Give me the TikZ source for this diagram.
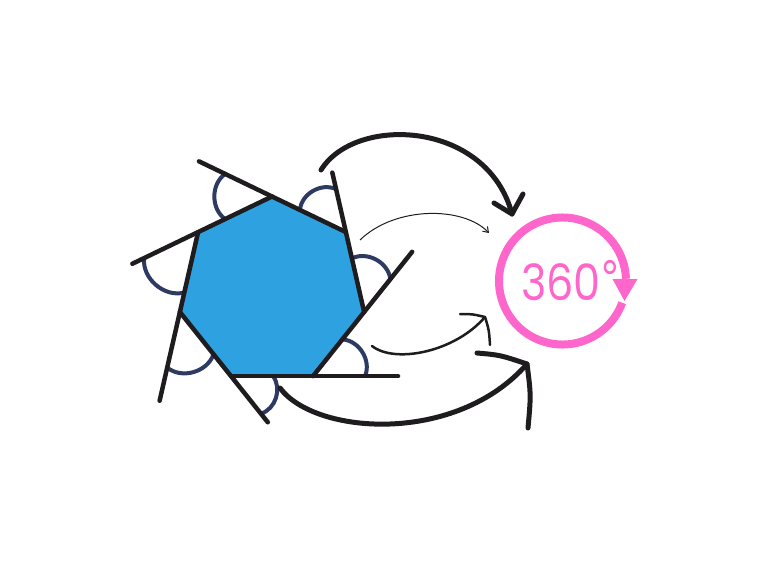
\documentclass[tikz,border=0pt]{standalone}
\usepackage{fontspec}
\newfontfamily\ringfont{Poppins}
\newfontfamily\degfont{DejaVu Sans}
\usetikzlibrary{calc,arrows.meta}
\definecolor{hexblue}{RGB}{46,162,224}
\definecolor{navy}{RGB}{45,58,98}
\definecolor{ink}{RGB}{30,28,30}
\definecolor{ringpink}{RGB}{255,102,204}
\begin{document}
\begin{tikzpicture}[x=1pt,y=-1pt,
  side/.style={ink,line width=4.5pt,line cap=round},
  angarc/.style={navy,line width=4pt},
  bigarrow/.style={ink,line width=5pt,line cap=round,line join=round},
  midarrow/.style={ink,line width=2.5pt,line cap=round,line join=round},
  thinarrow/.style={ink,line width=1pt,-{Straight Barb[length=5pt,width=7pt]}},
  ring/.style={ringpink,line width=8pt}]
\useasboundingbox (0,0) rectangle (768,576);
\coordinate (C) at (272,291);
\foreach \k in {0,...,6} \coordinate (V\k) at ($(C)+({-90+\k*360/7}:94.5)$);
% heptagon
\fill[hexblue] (V0) -- (V1) -- (V2) -- (V3) -- (V4) -- (V5) -- (V6) -- cycle;
% exterior angle arcs
\draw[angarc] ($(V0)!-52pt!(V1)$) to[bend right=55] ($(V0)!52pt!(V6)$);
\draw[angarc] ($(V1)!-44pt!(V2)$) to[bend right=55] ($(V1)!51pt!(V0)$);
\draw[angarc] ($(V2)!-42pt!(V3)$) to[bend right=55] ($(V2)!55pt!(V1)$);
\draw[angarc] ($(V3)!-52pt!(V4)$) to[bend right=55] ($(V3)!47pt!(V2)$);
\draw[angarc] ($(V4)!-48pt!(V5)$) to[bend right=55] ($(V4)!42pt!(V3)$);
\draw[angarc] ($(V5)!-57pt!(V6)$) to[bend right=55] ($(V5)!54pt!(V4)$);
\draw[angarc] ($(V6)!-60pt!(V0)$) to[bend right=55] ($(V6)!62pt!(V5)$);
% sides, each extended past one vertex
\draw[side] (V1) -- ($(V0)!-81pt!(V1)$);
\draw[side] (V2) -- ($(V1)!-61pt!(V2)$);
\draw[side] (V3) -- ($(V2)!-77pt!(V3)$);
\draw[side] (V4) -- ($(V3)!-85pt!(V4)$);
\draw[side] (V5) -- ($(V4)!-59pt!(V5)$);
\draw[side] (V6) -- ($(V5)!-91pt!(V6)$);
\draw[side] (V0) -- ($(V6)!-73pt!(V0)$);
% arrows
\coordinate (a1s) at (321,170);
\coordinate (a1e) at (512,214);
\draw[bigarrow] (a1s) .. controls (355,115) and (487,120) .. (a1e);
\draw[bigarrow] (494,203) -- (a1e) -- (523,194);
\coordinate (a2s) at (360,240);
\coordinate (a2e) at (489,233);
\draw[thinarrow] (a2s) .. controls (395,206) and (463,206) .. (a2e);
\coordinate (a3s) at (372,346);
\coordinate (a3e) at (485,317);
\draw[midarrow] (a3s) .. controls (395,364) and (455,352) .. (a3e);
\draw[midarrow] (460,314) .. controls (472,314) .. (a3e) .. controls (489,330) .. (490,345);
\coordinate (a4s) at (280,388);
\coordinate (a4e) at (527,364);
\draw[bigarrow] (a4s) .. controls (315,435) and (456,445) .. (a4e);
\draw[bigarrow] (477,353) .. controls (500,355) .. (a4e) .. controls (531,395) .. (528,428);
% 360 ring
\coordinate (R) at (562.5,281);
\draw[ring] ($(R)+(-20:63.5pt)$) arc[start angle=-20, end angle=-358, radius=63.5pt];
\fill[ringpink] (612.5,279) -- (637.5,279) -- (624.5,301) -- cycle;
\node[text=ringpink, font=\ringfont\fontsize{50}{50}\selectfont, xscale=0.86, inner sep=0pt, anchor=base west] (t360) at (521,300) {360\raisebox{6pt}{\degfont\fontsize{46}{46}\selectfont °}};
\end{tikzpicture}
\end{document}
